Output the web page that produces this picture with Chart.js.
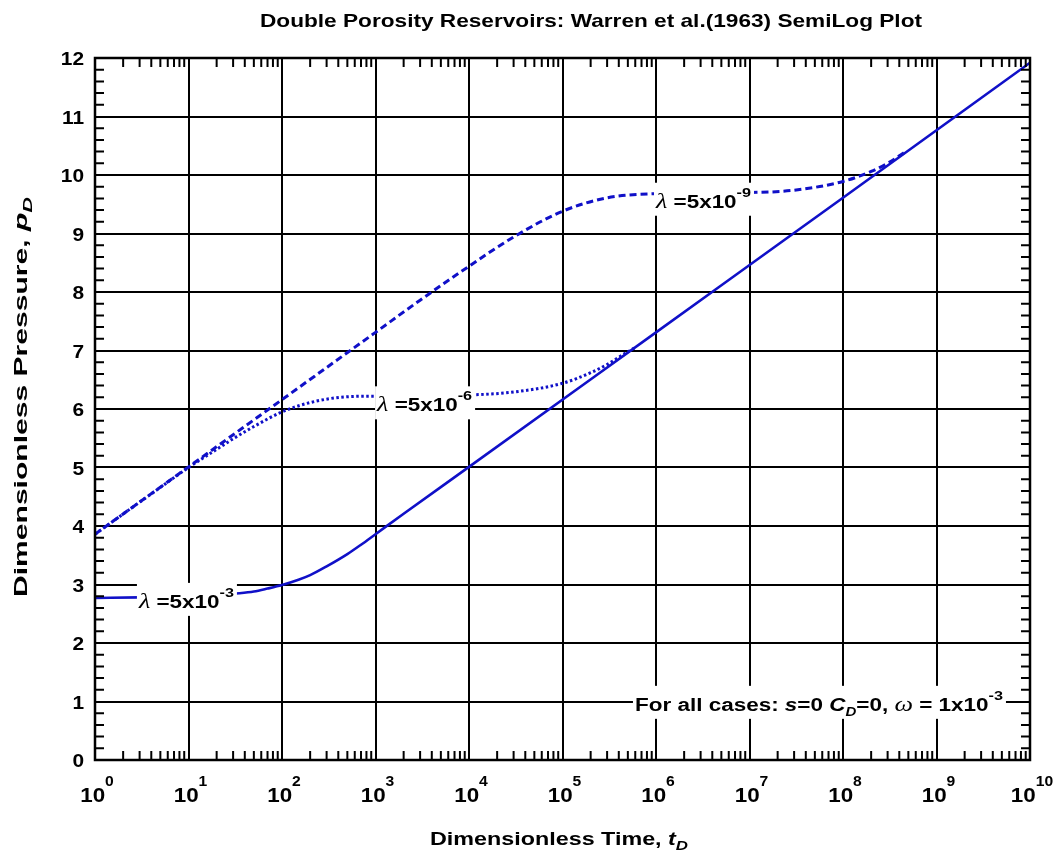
<!DOCTYPE html>
<html>
<head>
<meta charset="utf-8">
<script src="https://cdn.jsdelivr.net/npm/chart.js@4/dist/chart.umd.min.js"></script>
<style>
    html, body { margin: 0; padding: 0; background: #fff; }
    canvas { display: block; }
</style>
</head>
<body>
<canvas id="chart" width="1055" height="850"></canvas>
<script>
// Warren & Root double porosity, omega = 1e-3

const SANS = '"Liberation Sans", Arial, sans-serif';
const SERIF = '"Liberation Serif", "Times New Roman", serif';
const BLUE = '#1010c8';

// lambda = 5x10^-3 (solid)
const timeA = [1, 3, 10, 20, 30, 50, 70, 100, 150, 200, 300, 500, 700, 1000, 2000, 1e4, 1e6, 1e8, 1e10];
const pressA = [2.77, 2.78, 2.79, 2.81, 2.84, 2.88, 2.93, 2.99, 3.08, 3.16, 3.31, 3.52, 3.68, 3.86, 4.21, 5.01, 7.31, 9.61, 11.92];

// lambda = 5x10^-6 (dotted)
const timeB = [1, 5, 10, 20, 30, 50, 100, 200, 500, 1000, 1e4, 3e4, 1e5, 2e5, 3e5, 5e5, 6e5];
const pressB = [3.86, 4.66, 5.00, 5.31, 5.49, 5.70, 5.95, 6.11, 6.21, 6.22, 6.24, 6.29, 6.44, 6.62, 6.76, 6.98, 7.05];

// lambda = 5x10^-9 (dashed)
const timeC = [1, 10, 100, 1000, 3000, 1e4, 3e4, 1e5, 3e5, 1e6, 1e7, 3e7, 1e8, 2e8, 3e8, 4.5e8];
const pressC = [3.86, 5.01, 6.16, 7.31, 7.86, 8.44, 8.94, 9.38, 9.61, 9.68, 9.70, 9.74, 9.89, 10.06, 10.20, 10.38];

const xDecades = [1, 1e1, 1e2, 1e3, 1e4, 1e5, 1e6, 1e7, 1e8, 1e9, 1e10];
const xExponents = ['0', '1', '2', '3', '4', '5', '6', '7', '8', '9', '10'];
const yTicks = [0, 1, 2, 3, 4, 5, 6, 7, 8, 9, 10, 11, 12];

// curve labels: left edge time, centre pressure
const curveLabels = [
    { t: 2.95, p: 2.72, exp: '-3' },
    { t: 1040, p: 6.08, exp: '-6' },
    { t: 1.0e6, p: 9.56, exp: '-9' }
];

function toPoints(ts, ps) {
    return ts.map((t, i) => ({ x: t, y: ps[i] }));
}

// run of text pieces with mixed fonts; sx stretches horizontally
function measureParts(ctx, parts) {
    let w = 0;
    parts.forEach(p => { ctx.font = p.font; w += ctx.measureText(p.text).width; });
    return w;
}

function drawParts(ctx, parts, x, baseline, sx) {
    let cx = x;
    parts.forEach(p => {
        ctx.font = p.font;
        ctx.save();
        ctx.translate(cx, baseline + (p.dy || 0));
        ctx.scale(sx, 1);
        ctx.fillText(p.text, 0, 0);
        ctx.restore();
        cx += ctx.measureText(p.text).width * sx;
    });
}

function drawBoxed(ctx, parts, x, yc, width) {
    ctx.textBaseline = 'alphabetic';
    ctx.textAlign = 'left';
    const sx = width / measureParts(ctx, parts);
    ctx.fillStyle = '#fff';
    ctx.fillRect(x - 2, yc - 18, width + 5, 33);
    ctx.fillStyle = '#000';
    drawParts(ctx, parts, x, yc + 7, sx);
}

function lambdaParts(exp) {
    return [
        { text: '\u03bb', font: 'italic 21px ' + SERIF },
        { text: ' =5x10', font: 'bold 18px ' + SANS },
        { text: exp, font: 'bold 13px ' + SANS, dy: -11 }
    ];
}

const decorPlugin = {
    id: 'decor',
    afterDatasetsDraw(chart) {
        const { ctx, chartArea: a, scales: { x, y } } = chart;
        ctx.save();

        // minor ticks, inside on all four sides
        ctx.strokeStyle = '#000';
        ctx.lineWidth = 2;
        ctx.beginPath();
        xDecades.slice(0, -1).forEach(d => {
            for (let m = 2; m <= 9; m++) {
                const px = x.getPixelForValue(d * m);
                ctx.moveTo(px, a.bottom); ctx.lineTo(px, a.bottom - 9);
                ctx.moveTo(px, a.top); ctx.lineTo(px, a.top + 9);
            }
        });
        for (let i = 1; i < 60; i++) {
            if (i % 5 === 0) continue;
            const py = y.getPixelForValue(i * 0.2);
            ctx.moveTo(a.left, py); ctx.lineTo(a.left + 9, py);
            ctx.moveTo(a.right, py); ctx.lineTo(a.right - 9, py);
        }
        ctx.stroke();

        // frame
        ctx.lineWidth = 2.5;
        ctx.strokeRect(a.left, a.top, a.right - a.left, a.bottom - a.top);

        // curve labels
        curveLabels.forEach(l => {
            drawBoxed(ctx, lambdaParts(l.exp), x.getPixelForValue(l.t), y.getPixelForValue(l.p), 95);
        });

        drawBoxed(ctx, [
            { text: 'For all cases: ', font: 'bold 18px ' + SANS },
            { text: 's', font: 'italic bold 18px ' + SANS },
            { text: '=0 ', font: 'bold 18px ' + SANS },
            { text: 'C', font: 'italic bold 18px ' + SANS },
            { text: 'D', font: 'italic bold 12px ' + SANS, dy: 5 },
            { text: '=0, ', font: 'bold 18px ' + SANS },
            { text: '\u03c9', font: 'italic 21px ' + SERIF },
            { text: ' = 1x10', font: 'bold 18px ' + SANS },
            { text: '-3', font: 'bold 13px ' + SANS, dy: -11 }
        ], x.getPixelForValue(10 ** 5.775), y.getPixelForValue(0.96), 368);

        // y tick labels
        ctx.fillStyle = '#000';
        ctx.textAlign = 'left';
        ctx.textBaseline = 'alphabetic';
        yTicks.forEach(v => {
            const parts = [{ text: String(v), font: 'bold 19px ' + SANS }];
            const w = measureParts(ctx, parts) * 1.1;
            drawParts(ctx, parts, a.left - 11 - w, y.getPixelForValue(v) + 7, 1.1);
        });

        // x tick labels, 10 with superscript exponent
        xDecades.forEach((d, i) => {
            const parts = [
                { text: '10', font: 'bold 20px ' + SANS },
                { text: xExponents[i], font: 'bold 14px ' + SANS, dy: -16 }
            ];
            const w = measureParts(ctx, parts) * 1.12;
            drawParts(ctx, parts, x.getPixelForValue(d) - w / 2 + 2, a.bottom + 42, 1.12);
        });

        // title
        const tp = [{ text: 'Double Porosity Reservoirs: Warren et al.(1963) SemiLog Plot', font: 'bold 19px ' + SANS }];
        drawParts(ctx, tp, 260, 27, 662 / measureParts(ctx, tp));

        // x axis title
        const xt = [
            { text: 'Dimensionless Time, ', font: 'bold 18px ' + SANS },
            { text: 't', font: 'italic bold 18px ' + SANS },
            { text: 'D', font: 'italic bold 13px ' + SANS, dy: 5 }
        ];
        drawParts(ctx, xt, 430, 845, 258 / measureParts(ctx, xt));

        // y axis title
        const yt = [
            { text: 'Dimensionless Pressure, ', font: 'bold 18px ' + SANS },
            { text: 'p', font: 'italic bold 18px ' + SANS },
            { text: 'D', font: 'italic bold 13px ' + SANS, dy: 5 }
        ];
        ctx.translate(27, 597);
        ctx.rotate(-Math.PI / 2);
        drawParts(ctx, yt, 0, 0, 400 / measureParts(ctx, yt));

        ctx.restore();
    }
};

const gridStyle = { color: '#000', lineWidth: 2, drawTicks: false };

new Chart(document.getElementById('chart').getContext('2d'), {
    type: 'scatter',
    data: {
        datasets: [
            {
                label: 'lambda 5e-3',
                data: toPoints(timeA, pressA),
                showLine: true,
                borderColor: BLUE,
                borderWidth: 2.6,
                pointRadius: 0,
                cubicInterpolationMode: 'monotone'
            },
            {
                label: 'lambda 5e-6',
                data: toPoints(timeB, pressB),
                showLine: true,
                borderColor: BLUE,
                borderWidth: 3,
                borderDash: [2.5, 2.5],
                pointRadius: 0,
                cubicInterpolationMode: 'monotone'
            },
            {
                label: 'lambda 5e-9',
                data: toPoints(timeC, pressC),
                showLine: true,
                borderColor: BLUE,
                borderWidth: 3,
                borderDash: [7, 4],
                pointRadius: 0,
                cubicInterpolationMode: 'monotone'
            }
        ]
    },
    options: {
        responsive: false,
        animation: false,
        layout: { padding: { left: 95, top: 58, right: 25, bottom: 90 } },
        plugins: {
            legend: { display: false },
            tooltip: { enabled: false }
        },
        scales: {
            x: {
                type: 'logarithmic',
                min: 1,
                max: 1e10,
                afterBuildTicks: scale => { scale.ticks = xDecades.map(v => ({ value: v })); },
                ticks: { display: false },
                grid: gridStyle,
                border: { display: false }
            },
            y: {
                type: 'linear',
                min: 0,
                max: 12,
                ticks: { display: false, stepSize: 1 },
                grid: gridStyle,
                border: { display: false }
            }
        }
    },
    plugins: [decorPlugin]
});
</script>
</body>
</html>
